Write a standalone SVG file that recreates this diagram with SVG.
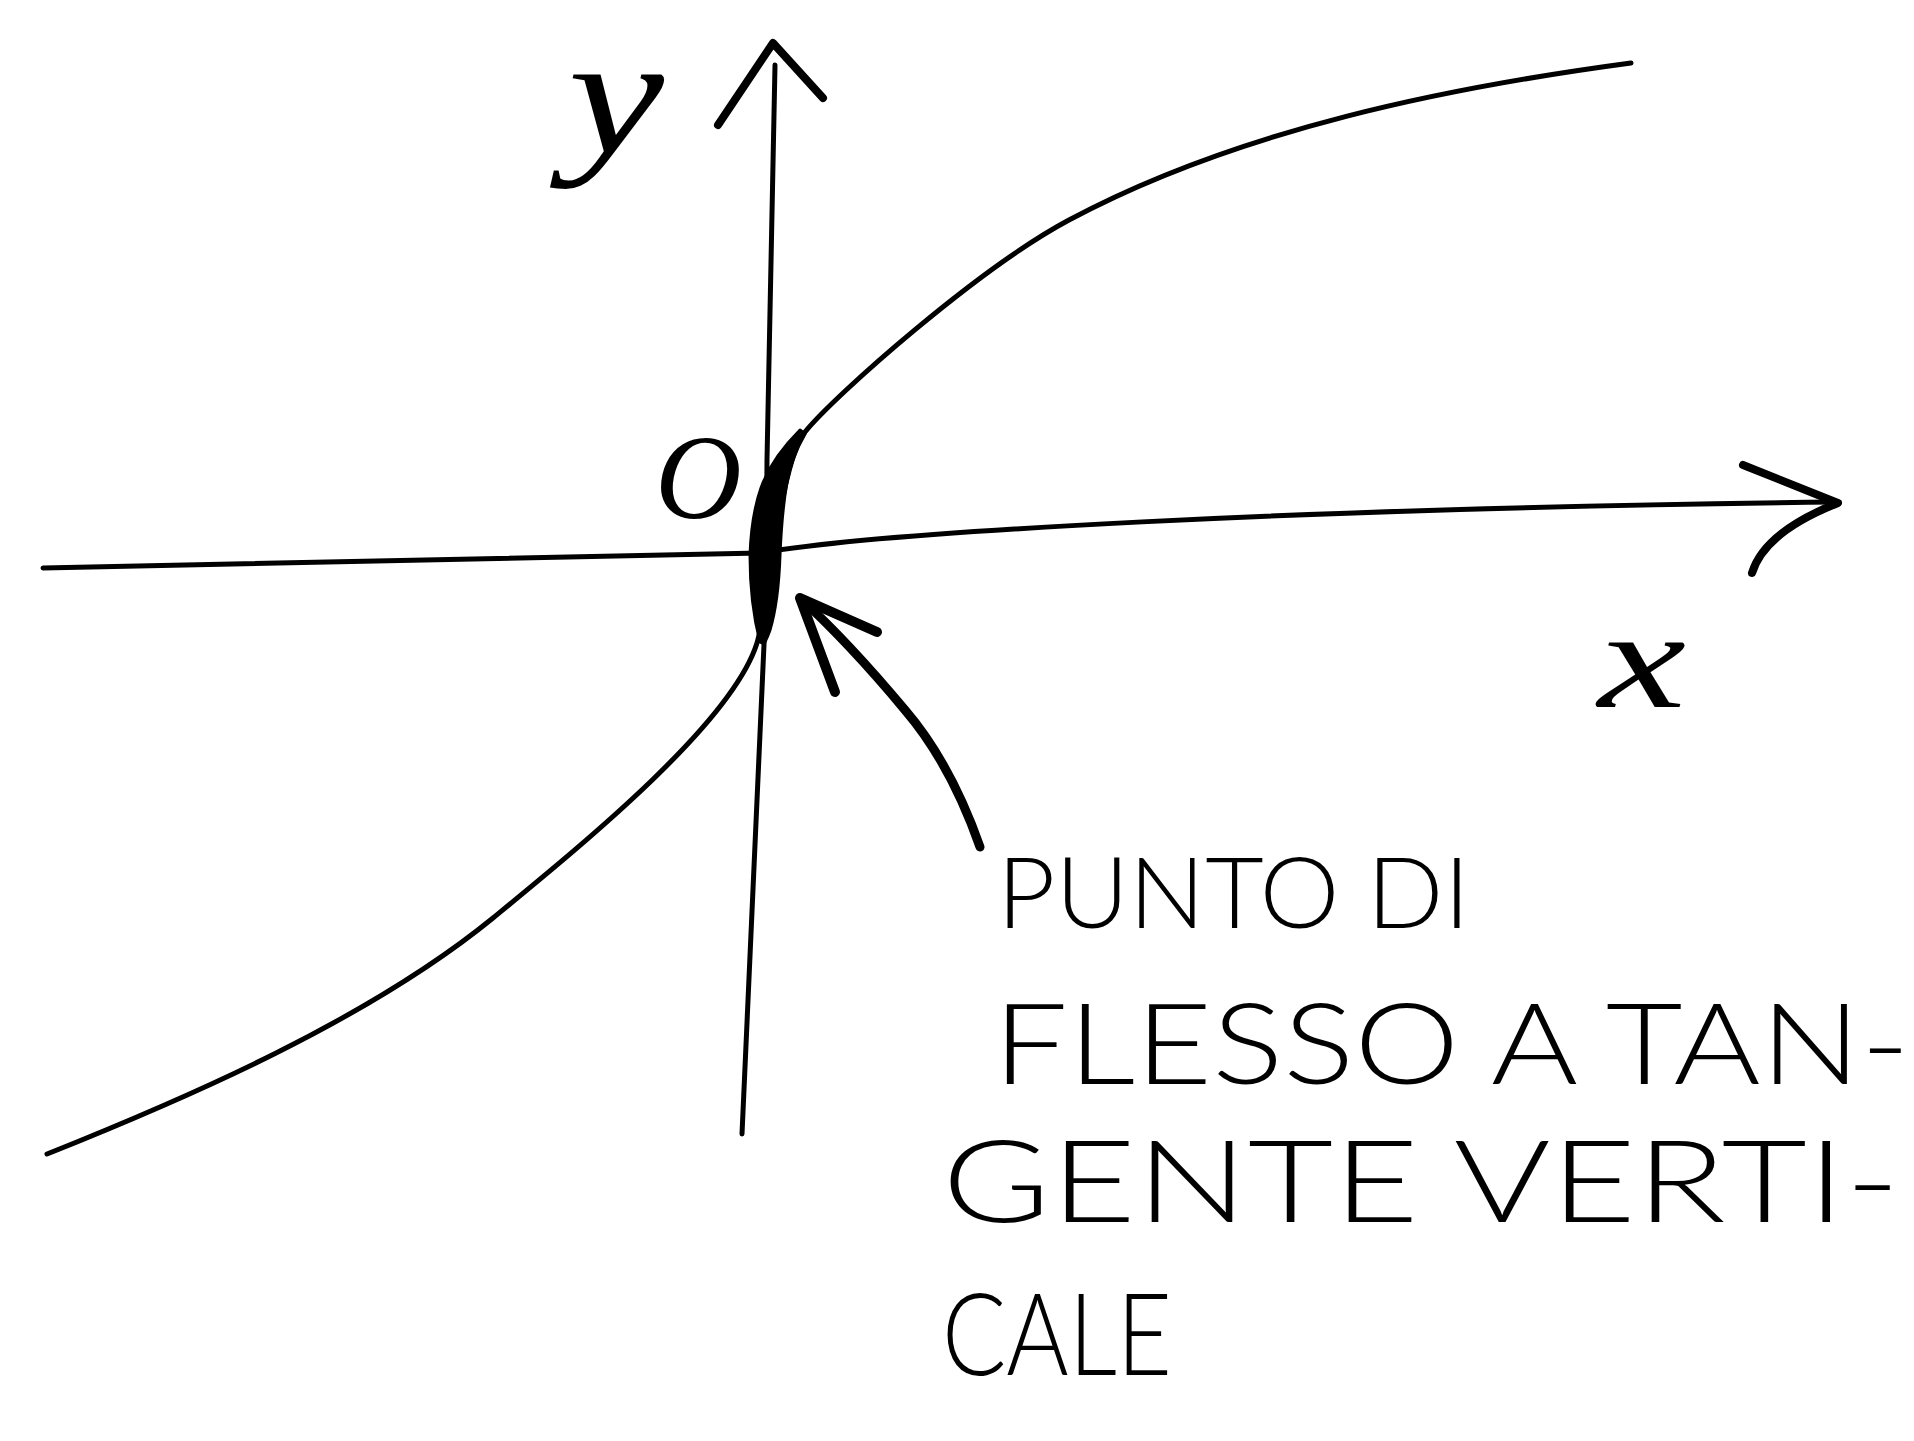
<svg xmlns="http://www.w3.org/2000/svg" width="1914" height="1441" viewBox="0 0 1914 1441">
<style>
.ln{fill:none;stroke:#000;stroke-width:5;stroke-linecap:round;stroke-linejoin:round}
.hd{fill:none;stroke:#000;stroke-width:8;stroke-linecap:round;stroke-linejoin:round}
.lbl{font-family:"Liberation Serif",serif;font-style:italic;fill:#000}
.note{font-family:Lato,"Liberation Sans",Arial,sans-serif;font-weight:300;fill:#000}
</style>
<rect width="1914" height="1441" fill="#fff"/>
<g id="connectors">
<path id="x-axis" class="ln" d="M43,568 L760,553 C880,532 1300,508 1838,502"/>
<path id="x-arrowhead" class="hd" d="M1743,465 L1838,503 C1800,518 1762,540 1752,573"/>
<path id="y-axis" class="ln" d="M775,65 L767,460 L766,600 L742,1134"/>
<path id="y-arrowhead" class="hd" d="M718,125 L773,43 L823,98"/>
<path id="curve" class="ln" d="M47,1154 C187,1098 368,1020 493,918 C583,844 732,723 757,643 C769,603 780,463 805,432 C835,395 979,268 1069,220 C1239,129 1451,87 1631,63"/>
<path id="thick" fill="#000" stroke="#000" stroke-width="3" stroke-linejoin="round" d="M760,642 C753,615 750,585 750,555 C751,528 755,505 761,488 C768,468 782,448 800,430 L805,434 C797,448 790,465 787,482 C783,505 781,530 780,555 C779,585 776,610 770,630 C768,636 766,640 764,644 Z"/>
<path id="pointer" class="ln" style="stroke-width:9" d="M980,847 C960,790 935,745 905,710 C870,668 835,630 800,598"/>
<path id="pointer-head" class="hd" style="stroke-width:10" d="M835,692 L800,598 L877,632"/>
</g>
<g id="label-y"><text class="lbl" x="568" y="152" font-size="170" textLength="96" lengthAdjust="spacingAndGlyphs">y</text></g>
<g id="label-o"><text class="lbl" x="655" y="518" font-size="120">O</text></g>
<g id="label-x"><text class="lbl" x="1598" y="707" font-size="140" textLength="88" lengthAdjust="spacingAndGlyphs">x</text></g>
<g id="annotation">
<text class="note" x="997" y="928" font-size="98" textLength="473" lengthAdjust="spacingAndGlyphs">PUNTO DI</text>
<text class="note" x="993" y="1084" font-size="112" textLength="917" lengthAdjust="spacingAndGlyphs">FLESSO A TAN-</text>
<text class="note" x="942" y="1222" font-size="114" textLength="958" lengthAdjust="spacingAndGlyphs">GENTE VERTI-</text>
<text class="note" x="942" y="1375" font-size="114" textLength="230" lengthAdjust="spacingAndGlyphs">CALE</text>
</g>
</svg>
